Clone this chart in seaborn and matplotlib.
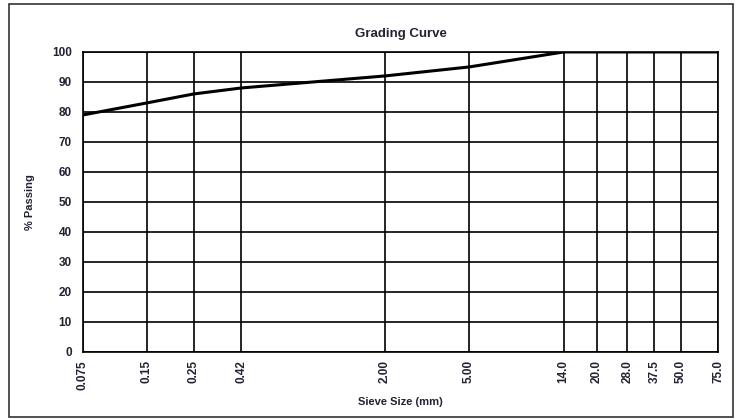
import matplotlib
matplotlib.use('Agg')
import matplotlib.pyplot as plt
import seaborn as sns
import pandas as pd
from matplotlib.patches import Rectangle
from matplotlib.ticker import NullLocator

# Sieve sizes (mm) and % passing
sieve_sizes = [0.075, 0.15, 0.25, 0.42, 2.00, 5.00, 14.0, 20.0, 28.0, 37.5, 50.0, 75.0]
sieve_labels = ['0.075', '0.15', '0.25', '0.42', '2.00', '5.00', '14.0', '20.0', '28.0', '37.5', '50.0', '75.0']
percent_passing = [79, 83, 86, 88, 92, 95, 100, 100, 100, 100, 100, 100]

df = pd.DataFrame({'size': sieve_sizes, 'passing': percent_passing})

sns.set_style('white')
plt.rcParams['font.family'] = ['Liberation Sans', 'DejaVu Sans']

fig = plt.figure(figsize=(7.41, 4.19), dpi=100)
ax = fig.add_axes([0.112, 0.160, 0.857, 0.716])

sns.lineplot(x='size', y='passing', data=df, color='black', linewidth=2.2, ax=ax)

ax.set_xscale('log')
ax.set_xlim(sieve_sizes[0], sieve_sizes[-1])
ax.set_ylim(0, 100)
ax.set_xticks(sieve_sizes)
ax.set_xticklabels(sieve_labels, rotation=90, fontsize=8.5, fontweight='bold', color='#222233')
ax.xaxis.set_minor_locator(NullLocator())
ax.set_yticks(range(0, 101, 10))
ax.tick_params(axis='y', labelsize=8.5, length=4, width=1, color='black', labelcolor='#222233', pad=4)
ax.tick_params(axis='x', length=0, pad=6)
for lbl in ax.get_yticklabels():
    lbl.set_fontweight('bold')

ax.grid(True, color='black', linewidth=1.2)
for s in ax.spines.values():
    s.set_color('black')
    s.set_linewidth(1.2)

ax.set_title('Grading Curve', fontsize=9.5, fontweight='bold', color='#222233', pad=11)
ax.set_xlabel('Sieve Size (mm)', fontsize=8, fontweight='bold', color='#222233', labelpad=5)
ax.set_ylabel('% Passing', fontsize=8, fontweight='bold', color='#222233', labelpad=12)

# outer chart frame
fig.add_artist(Rectangle((9 / 741, 2 / 419), 724 / 741, 413 / 419, transform=fig.transFigure,
                         fill=False, edgecolor='#333333', linewidth=1.2))

fig.savefig('out.png', dpi=100)
